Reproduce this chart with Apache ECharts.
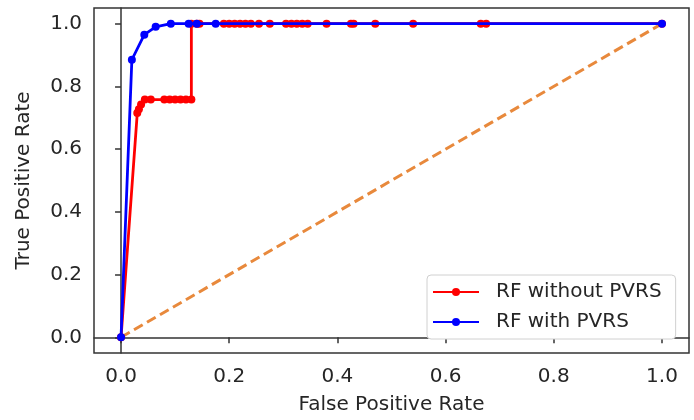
<!DOCTYPE html>
<html>
<head>
<meta charset="utf-8">
<script src="https://cdn.jsdelivr.net/npm/echarts@6/dist/echarts.min.js"></script>
<style>
  body { margin: 0; background: #fff; }
  #chart { width: 694px; height: 420px; }
</style>
</head>
<body>
<div id="chart"></div>
<script>
// ROC points
var redFpr = [0, 0.03, 0.033, 0.037, 0.044, 0.055, 0.08, 0.09, 0.1, 0.11, 0.12, 0.13, 0.13, 0.14, 0.145,
              0.19, 0.2, 0.21, 0.22, 0.23, 0.24, 0.255, 0.275, 0.305, 0.315, 0.325, 0.335, 0.345,
              0.38, 0.425, 0.43, 0.47, 0.54, 0.665, 0.675, 1.0];
var redTpr = [0, 0.715, 0.727, 0.742, 0.758, 0.758, 0.758, 0.758, 0.758, 0.758, 0.758, 0.758, 1, 1, 1,
              1, 1, 1, 1, 1, 1, 1, 1, 1, 1, 1, 1, 1,
              1, 1, 1, 1, 1, 1, 1, 1];
var blueFpr = [0, 0.02, 0.043, 0.064, 0.092, 0.125, 0.14, 0.175, 1.0];
var blueTpr = [0, 0.885, 0.965, 0.99, 1.0, 1.0, 1.0, 1.0, 1.0];
var diagX = [0, 1];
var diagY = [0, 1];
var tickValues = [0, 0.2, 0.4, 0.6, 0.8, 1.0];
var seriesNames = ['RF without PVRS', 'RF with PVRS'];

function pairs(xs, ys) {
    var out = [];
    for (var i = 0; i < xs.length; i++) {
        out.push([xs[i], ys[i]]);
    }
    return out;
}

var font = 'DejaVu Sans';
var textColor = '#262626';

var chart = echarts.init(document.getElementById('chart'));
chart.setOption({
    animation: false,
    backgroundColor: '#fff',
    grid: {
        left: 94, top: 8, right: 5, bottom: 64,
        show: true,
        borderColor: '#333',
        borderWidth: 1.5,
        backgroundColor: '#fff'
    },
    legend: {
        data: seriesNames,
        orient: 'vertical',
        left: 427,
        top: 275,
        padding: [7, 14, 7, 5],
        itemGap: 10,
        itemWidth: 46,
        itemHeight: 10,
        borderColor: '#d0d0d0',
        borderWidth: 1,
        borderRadius: 4,
        backgroundColor: '#fff',
        textStyle: {
            fontFamily: font,
            fontSize: 20,
            color: textColor,
            padding: [0, 0, 0, 12]
        }
    },
    xAxis: {
        type: 'value',
        min: -0.05,
        max: 1.05,
        name: 'False Positive Rate',
        nameLocation: 'middle',
        nameGap: 42,
        nameTextStyle: {fontFamily: font, fontSize: 20, color: textColor},
        axisLine: {show: true, lineStyle: {color: '#333', width: 1.5}},
        axisTick: {show: true, length: 6, customValues: tickValues, lineStyle: {color: '#333', width: 1.5}},
        axisLabel: {
            customValues: tickValues,
            margin: 14,
            fontFamily: font, fontSize: 20, color: textColor,
            formatter: function (v) { return v.toFixed(1); }
        },
        splitLine: {show: false}
    },
    yAxis: {
        type: 'value',
        min: -0.05,
        max: 1.05,
        name: 'True Positive Rate',
        nameLocation: 'middle',
        nameGap: 60,
        nameTextStyle: {fontFamily: font, fontSize: 20, color: textColor},
        axisLine: {show: true, lineStyle: {color: '#333', width: 1.5}},
        axisTick: {show: true, length: 6, customValues: tickValues, lineStyle: {color: '#333', width: 1.5}},
        axisLabel: {
            customValues: tickValues,
            margin: 12,
            fontFamily: font, fontSize: 20, color: textColor,
            formatter: function (v) { return v.toFixed(1); }
        },
        splitLine: {show: false}
    },
    series: [
        {
            name: 'diagonal',
            type: 'line',
            data: pairs(diagX, diagY),
            showSymbol: false,
            lineStyle: {color: '#e8893c', width: 3, type: [10, 5]},
            z: 1
        },
        {
            name: seriesNames[0],
            type: 'line',
            data: pairs(redFpr, redTpr),
            symbol: 'circle',
            symbolSize: 8,
            itemStyle: {color: '#ff0000'},
            lineStyle: {color: '#ff0000', width: 2.8},
            z: 2
        },
        {
            name: seriesNames[1],
            type: 'line',
            data: pairs(blueFpr, blueTpr),
            symbol: 'circle',
            symbolSize: 8,
            itemStyle: {color: '#0000ff'},
            lineStyle: {color: '#0000ff', width: 2.8},
            z: 3
        }
    ]
});
</script>
</body>
</html>
